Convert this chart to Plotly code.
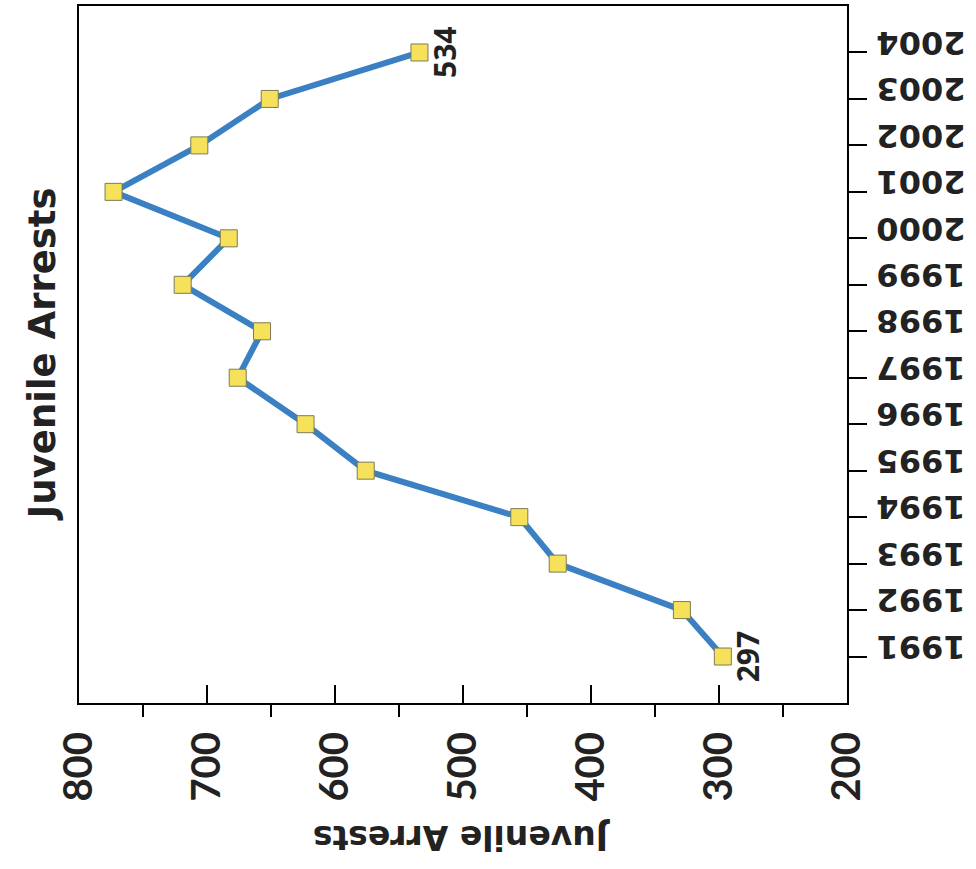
import plotly.graph_objects as go

years = [1991, 1992, 1993, 1994, 1995, 1996, 1997, 1998, 1999, 2000, 2001, 2002, 2003, 2004]
arrests = [297, 329, 426, 456, 576, 623, 676, 657, 719, 683, 773, 706, 651, 534]
x_ticks = [800, 700, 600, 500, 400, 300, 200]
title_text = "Juvenile Arrests"
axis_title = "Juvenile Arrests"
end_labels = [(years[0], arrests[0]), (years[-1], arrests[-1])]

fig = go.Figure()
fig.add_trace(go.Scatter(
    x=arrests, y=years, mode="lines+markers",
    line=dict(color="#3a80c2", width=6),
    marker=dict(symbol="square", size=17, color="#f6e25a",
                line=dict(color="#7f7a55", width=1)),
    hoverinfo="skip", showlegend=False,
))

annotations = []
for yr, v in end_labels:
    annotations.append(dict(
        x=v, y=yr, xref="x", yref="y", text=str(v), showarrow=False,
        textangle=-90, xanchor="center", yanchor="middle", xshift=25,
        font=dict(family="Open Sans", size=30, color="#222222", weight="bold"),
    ))
annotations.append(dict(
    x=-0.047, y=0.50, xref="paper", yref="paper", text=title_text,
    showarrow=False, textangle=-90, xanchor="center", yanchor="middle",
    font=dict(family="DejaVu Sans", size=37, color="#222222", weight="bold"),
))
annotations.append(dict(
    x=0.498, y=-0.194, xref="paper", yref="paper", text=axis_title,
    showarrow=False, textangle=180, xanchor="center", yanchor="middle",
    font=dict(family="DejaVu Sans", size=33, color="#222222", weight="bold"),
))

fig.update_layout(
    width=976, height=869,
    margin=dict(l=79, r=129, t=4, b=166),
    paper_bgcolor="white", plot_bgcolor="white",
    annotations=annotations,
    xaxis=dict(
        range=[800, 200], tickvals=x_ticks, ticktext=[str(v) for v in x_ticks],
        ticks="inside", ticklen=18, tickwidth=2, tickcolor="black",
        tickangle=-90, ticklabelstandoff=11,
        tickfont=dict(family="Lato", size=40, color="#222222", weight="bold"),
        minor=dict(ticks="outside", ticklen=12, tickwidth=2, tickcolor="black",
                   tick0=250, dtick=100, showgrid=False),
        showline=True, linecolor="black", linewidth=2, mirror=True,
        showgrid=False, zeroline=False, fixedrange=True,
    ),
    yaxis=dict(
        range=[1990, 2005], tickvals=years, ticktext=[str(y) for y in years],
        side="right", ticks="outside", ticklen=18, tickwidth=2, tickcolor="black",
        tickangle=180, ticklabelstandoff=92,
        tickfont=dict(family="DejaVu Sans", size=32, color="#222222", weight="bold"),
        showline=True, linecolor="black", linewidth=2, mirror=True,
        showgrid=False, zeroline=False, fixedrange=True,
    ),
)

fig.write_html("out.html", config={"displayModeBar": False},
               post_script="document.body.style.margin='0px';")
